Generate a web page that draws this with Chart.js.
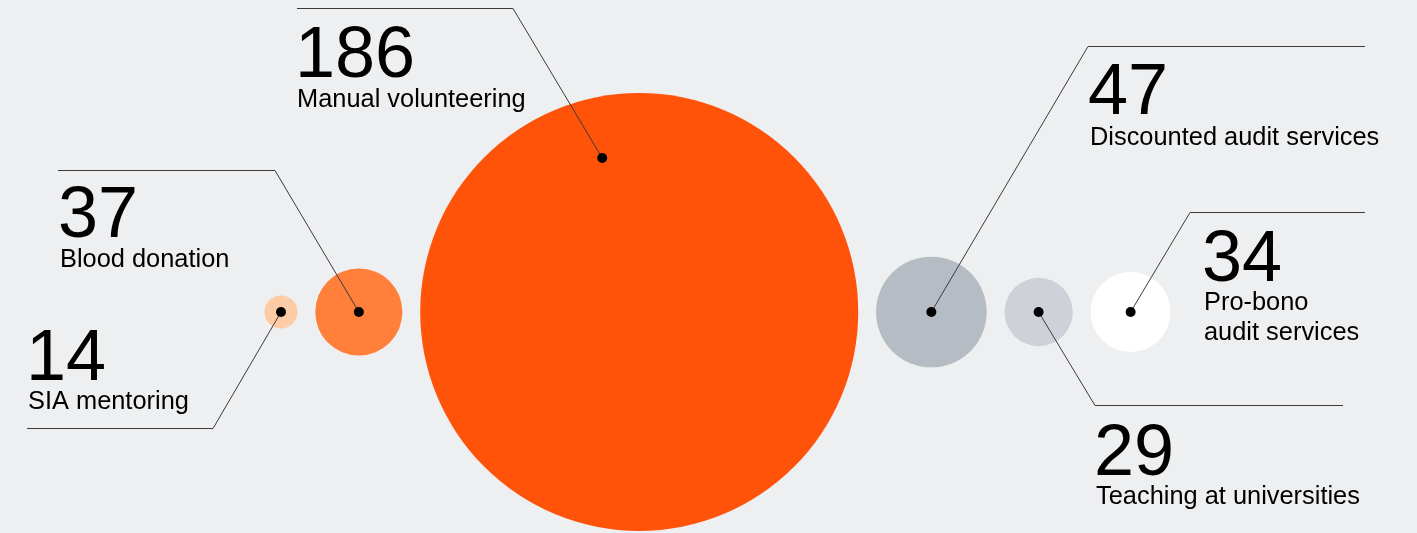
<!DOCTYPE html>
<html>
<head>
<meta charset="utf-8">
<script src="https://cdn.jsdelivr.net/npm/chart.js@4/dist/chart.umd.min.js"></script>
<style>
  html, body { margin: 0; padding: 0; background: #eeeff1; }
  #wrap { position: relative; width: 1417px; height: 533px; }
</style>
</head>
<body>
<div id="wrap"><canvas id="c"></canvas></div>
<script>
// ---- data ----
const categories = ["SIA mentoring", "Blood donation", "Manual volunteering", "Discounted audit services", "Teaching at universities", "Pro-bono audit services"];
const values = [14, 37, 186, 47, 29, 34];
const labelLines = [["SIA mentoring"], ["Blood donation"], ["Manual volunteering"], ["Discounted audit services"], ["Teaching at universities"], ["Pro-bono", "audit services"]];

// ---- styles / layout ----
const colors = ["#fdcba6", "#ff7f3b", "#ff5309", "#b6bcc4", "#ced2d8", "#ffffff"];
const pxPerUnit = 219 / 186;   // bubble radius in px per value unit
const gapPx = 17.8;            // gap between neighbouring bubbles
const firstCenterX = 281;
const rowY = 312;

// annotation layout: anchor offset (fraction of radius), elbow point, end of horizontal rule, text block
const annot = [
  { ax: 0, ay: 0, ex: 213, ey: 428, hx: 27,   tx: 28,   nb: 380, lb: [409] },
  { ax: 0, ay: 0, ex: 275, ey: 170, hx: 58,   tx: 60,   nb: 237, lb: [267] },
  { ax: -0.169, ay: -0.703, ex: 513, ey: 8, hx: 297, tx: 297, nb: 77, lb: [107] },
  { ax: 0, ay: 0, ex: 1088, ey: 46, hx: 1365, tx: 1090, nb: 114, lb: [145] },
  { ax: 0, ay: 0, ex: 1095, ey: 405, hx: 1343, tx: 1096, nb: 475, lb: [504] },
  { ax: 0, ay: 0, ex: 1190, ey: 212, hx: 1365, tx: 1204, nb: 281, lb: [310, 340] }
];

// build bubble data: packed side by side from the values
const radii = values.map(v => v * pxPerUnit);
const centers = [];
radii.forEach((r, i) => {
  if (i === 0) centers.push(firstCenterX);
  else centers.push(centers[i - 1] + radii[i - 1] + gapPx + r);
});
const bubbleData = values.map((v, i) => ({ x: centers[i], y: rowY, r: radii[i] }));

const calloutPlugin = {
  id: 'callouts',
  afterDatasetsDraw(chart) {
    const ctx = chart.ctx;
    const meta = chart.getDatasetMeta(0);
    ctx.save();
    meta.data.forEach((el, i) => {
      const a = annot[i];
      const r = el.options.radius;
      const px = el.x + a.ax * r;
      const py = el.y + a.ay * r;
      // leader line
      ctx.strokeStyle = '#3a3a3a';
      ctx.lineWidth = 1;
      ctx.beginPath();
      ctx.moveTo(px, py);
      ctx.lineTo(a.ex, a.ey + 0.5);
      ctx.lineTo(a.hx, a.ey + 0.5);
      ctx.stroke();
      // dot
      ctx.fillStyle = '#000';
      ctx.beginPath();
      ctx.arc(px, py, 5, 0, Math.PI * 2);
      ctx.fill();
      // texts
      ctx.fillStyle = '#000';
      ctx.textAlign = 'left';
      ctx.textBaseline = 'alphabetic';
      ctx.font = '72px "Liberation Sans", Arial, sans-serif';
      ctx.fillText(String(values[i]), a.tx - 2, a.nb);
      ctx.font = '25.4px "Liberation Sans", Arial, sans-serif';
      labelLines[i].forEach((line, j) => ctx.fillText(line, a.tx, a.lb[j]));
    });
    ctx.restore();
  }
};

new Chart(document.getElementById('c'), {
  type: 'bubble',
  data: {
    labels: categories,
    datasets: [{
      label: 'Volunteering',
      data: bubbleData,
      backgroundColor: colors,
      borderWidth: 0,
      hoverBorderWidth: 0,
      clip: false
    }]
  },
  options: {
    responsive: true,
    maintainAspectRatio: false,
    animation: false,
    events: [],
    layout: { autoPadding: false, padding: 0 },
    plugins: { legend: { display: false }, tooltip: { enabled: false } },
    scales: {
      x: { type: 'linear', min: 0, max: 1417, display: false },
      y: { type: 'linear', min: 0, max: 533, reverse: true, display: false }
    }
  },
  plugins: [calloutPlugin]
});
</script>
</body>
</html>
